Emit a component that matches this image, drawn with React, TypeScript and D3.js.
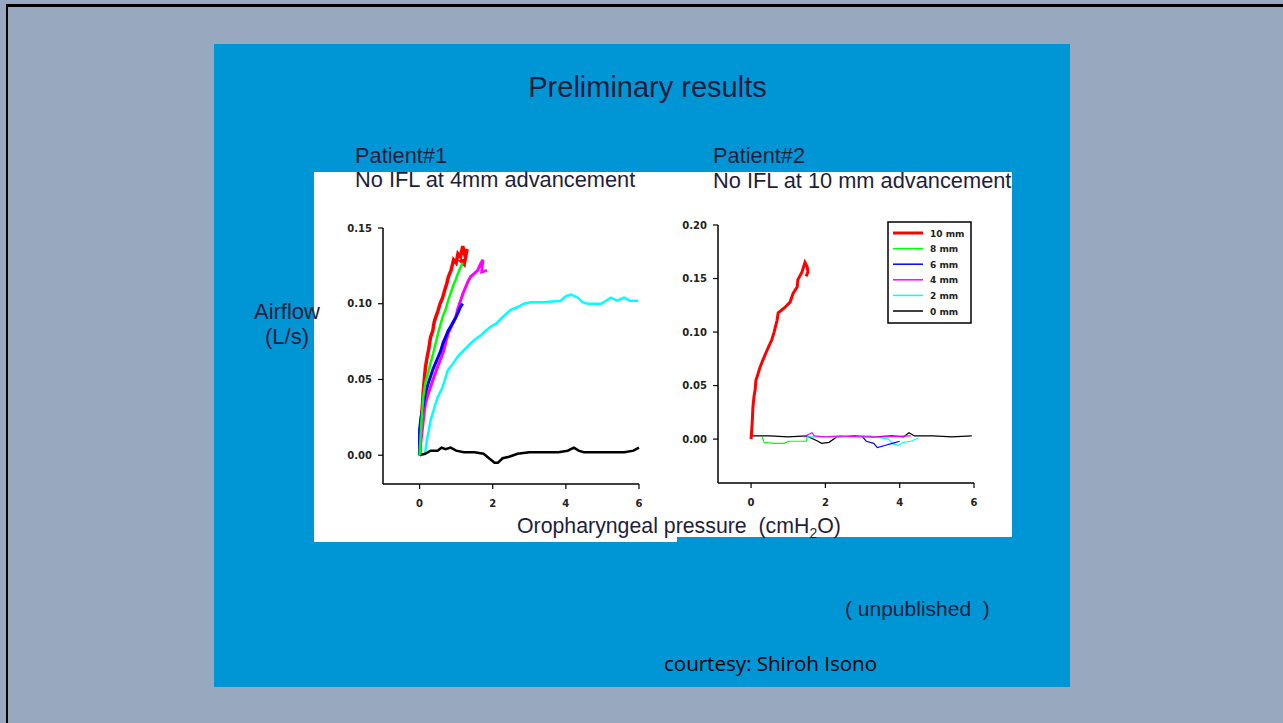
import React from "react";
import * as d3 from "d3";

type P = [number, number];

// ---------- Patient #1 (left chart) ----------
const p1Red: P[] = [
  [0, 0.0], [0.02, 0.012], [0.05, 0.024], [0.08, 0.034], [0.1, 0.042], [0.13, 0.05], [0.16, 0.058], [0.2, 0.064],
  [0.25, 0.07], [0.3, 0.078], [0.36, 0.082], [0.4, 0.088], [0.44, 0.091], [0.5, 0.095], [0.56, 0.1], [0.63, 0.104],
  [0.7, 0.11], [0.74, 0.113], [0.79, 0.118], [0.86, 0.122], [0.93, 0.129], [1.0, 0.127], [1.05, 0.133],
  [1.12, 0.131], [1.18, 0.138], [1.24, 0.132], [1.3, 0.136], [1.22, 0.126], [1.14, 0.128], [1.26, 0.129],
];
const p1Green: P[] = [
  [0, 0.0], [0.05, 0.022], [0.1, 0.038], [0.16, 0.048], [0.23, 0.054], [0.3, 0.061], [0.37, 0.067],
  [0.44, 0.074], [0.51, 0.081], [0.58, 0.087], [0.64, 0.092], [0.71, 0.096], [0.78, 0.102], [0.85, 0.107],
  [0.92, 0.112], [0.99, 0.116], [1.05, 0.12], [1.12, 0.124], [1.18, 0.127],
];
const p1Blue: P[] = [
  [0, 0.0], [0, 0.017], [0.04, 0.025], [0.08, 0.03], [0.12, 0.036], [0.16, 0.041], [0.23, 0.047],
  [0.3, 0.052], [0.37, 0.057], [0.44, 0.061], [0.51, 0.065], [0.58, 0.069], [0.64, 0.074], [0.71, 0.078],
  [0.78, 0.082], [0.85, 0.085], [0.92, 0.088], [0.99, 0.091], [1.05, 0.094], [1.12, 0.098], [1.18, 0.1],
];
const p1Magenta: P[] = [
  [0, 0.0], [0.04, 0.01], [0.08, 0.018], [0.12, 0.027], [0.16, 0.034], [0.23, 0.04], [0.3, 0.045],
  [0.4, 0.052], [0.49, 0.058], [0.57, 0.063], [0.66, 0.069], [0.72, 0.075], [0.79, 0.081], [0.89, 0.086],
  [0.99, 0.091], [1.05, 0.097], [1.12, 0.102], [1.19, 0.107], [1.26, 0.111], [1.33, 0.115], [1.4, 0.118],
  [1.5, 0.12], [1.59, 0.122], [1.66, 0.126], [1.73, 0.129], [1.7, 0.121], [1.84, 0.122],
];
const p1Cyan: P[] = [
  [0.14, 0.0], [0.16, 0.003], [0.2, 0.01], [0.25, 0.016], [0.3, 0.023], [0.4, 0.031], [0.49, 0.038],
  [0.63, 0.045], [0.77, 0.056], [0.9, 0.06], [1.04, 0.065], [1.2, 0.069], [1.4, 0.074], [1.55, 0.077],
  [1.67, 0.079], [1.8, 0.082], [1.95, 0.085], [2.1, 0.087], [2.22, 0.09], [2.35, 0.093], [2.49, 0.096],
  [2.7, 0.098], [2.85, 0.1], [3.04, 0.101], [3.4, 0.101], [3.86, 0.102], [4.0, 0.105], [4.14, 0.106],
  [4.33, 0.104], [4.45, 0.101], [4.6, 0.1], [4.96, 0.1], [5.1, 0.102], [5.23, 0.104], [5.4, 0.102],
  [5.59, 0.104], [5.75, 0.102], [5.98, 0.102],
];
const p1Black: P[] = [
  [0, 0.0], [0.16, 0.001], [0.3, 0.003], [0.49, 0.003], [0.6, 0.005], [0.71, 0.004], [0.85, 0.005],
  [1.0, 0.003], [1.21, 0.002], [1.5, 0.002], [1.75, 0.001], [1.85, -0.001], [1.95, -0.003], [2.05, -0.005],
  [2.14, -0.005], [2.27, -0.002], [2.45, -0.001], [2.68, 0.001], [3.0, 0.002], [3.4, 0.002], [3.8, 0.002],
  [4.05, 0.003], [4.22, 0.005], [4.35, 0.003], [4.49, 0.002], [4.8, 0.002], [5.23, 0.002], [5.6, 0.002],
  [5.85, 0.003], [6.0, 0.005],
];

// ---------- Patient #2 (right chart) ----------
const p2Red: P[] = [
  [0, 0.0], [0.03, 0.015], [0.05, 0.03], [0.08, 0.04], [0.11, 0.046], [0.13, 0.055], [0.16, 0.058],
  [0.24, 0.067], [0.32, 0.074], [0.43, 0.083], [0.56, 0.093], [0.62, 0.1], [0.7, 0.111], [0.73, 0.118],
  [0.91, 0.123], [1.05, 0.128], [1.13, 0.136], [1.24, 0.142], [1.26, 0.149], [1.37, 0.156], [1.45, 0.165],
  [1.51, 0.161], [1.53, 0.156], [1.48, 0.152],
];
const p2Green: P[] = [
  [0.3, 0.002], [0.35, -0.003], [0.6, -0.004], [0.9, -0.004], [1.0, -0.002], [1.3, -0.002], [1.5, -0.002], [1.5, 0.002],
];
const p2Blue: P[] = [
  [3.0, 0.002], [3.1, -0.002], [3.3, -0.004], [3.4, -0.008], [3.6, -0.006], [3.8, -0.004], [4.0, -0.002],
];
const p2Magenta: P[] = [
  [1.4, 0.002], [1.64, 0.006], [1.7, 0.003], [2.0, 0.002], [2.4, 0.003], [2.9, 0.002], [3.5, 0.002], [4.3, 0.003],
];
const p2Cyan: P[] = [
  [1.5, 0.002], [2.5, 0.002], [3.2, 0.003], [3.7, 0.0], [3.8, -0.004], [3.95, -0.006], [4.1, -0.003], [4.3, -0.002], [4.5, 0.001],
];
const p2Black: P[] = [
  [0, 0.003], [0.5, 0.003], [1.0, 0.002], [1.5, 0.003], [1.8, -0.002], [1.9, -0.004], [2.1, -0.003],
  [2.3, 0.002], [2.8, 0.003], [3.3, 0.002], [3.8, 0.003], [4.1, 0.002], [4.25, 0.006], [4.4, 0.003],
  [4.9, 0.003], [5.4, 0.002], [5.94, 0.003],
];

const legendLabels = ["10 mm", "8 mm", "6 mm", "4 mm", "2 mm", "0 mm"];
const legendColors = ["#ff0000", "#00ff00", "#0000ff", "#ff00ff", "#00ffff", "#000000"];
const xTicks = [0, 2, 4, 6];
const yTicks1 = [0, 0.05, 0.1, 0.15];
const yTicks2 = [0, 0.05, 0.1, 0.15, 0.2];

const TEXT = "#1e1e3c";
const FONT = "'Liberation Sans', Arial, sans-serif";
const TICKFONT = "'DejaVu Sans', sans-serif";

type Series = { data: P[]; color: string; width: number };

function Chart(props: {
  x: d3.ScaleLinear<number, number>;
  y: d3.ScaleLinear<number, number>;
  yTicks: number[];
  series: Series[];
}) {
  const { x, y, yTicks, series } = props;
  const [x0, x1] = x.range();
  const [yb, yt] = y.range();
  const line = d3
    .line<P>()
    .x((d) => x(d[0]))
    .y((d) => y(d[1]));
  return (
    <g>
      {series.map((s, i) => (
        <path
          key={i}
          d={line(s.data) || ""}
          fill="none"
          stroke={s.color}
          strokeWidth={s.width}
          strokeLinejoin="miter"
        />
      ))}
      <line x1={x0} x2={x0} y1={yt} y2={yb} stroke="#000" strokeWidth={1.5} />
      <line x1={x0} x2={x1} y1={yb} y2={yb} stroke="#000" strokeWidth={1.5} />
      {yTicks.map((t) => (
        <g key={"y" + t}>
          <line x1={x0 - 5} x2={x0} y1={y(t)} y2={y(t)} stroke="#000" strokeWidth={1.2} />
          <text
            x={x0 - 11}
            y={y(t) + 3.5}
            textAnchor="end"
            fontFamily={TICKFONT}
            fontWeight="bold"
            fontSize={10}
            fill="#222"
          >
            {d3.format(".2f")(t)}
          </text>
        </g>
      ))}
      {xTicks.map((t) => (
        <g key={"x" + t}>
          <line x1={x(t)} x2={x(t)} y1={yb} y2={yb + 5} stroke="#000" strokeWidth={1.2} />
          <text
            x={x(t)}
            y={yb + 23}
            textAnchor="middle"
            fontFamily={TICKFONT}
            fontWeight="bold"
            fontSize={10}
            fill="#222"
          >
            {t}
          </text>
        </g>
      ))}
    </g>
  );
}

export default function App() {
  const x1 = d3.scaleLinear().domain([-1, 6]).range([383, 639]);
  const y1 = d3.scaleLinear().domain([-0.019, 0.15]).range([484, 228]);
  const x2 = d3.scaleLinear().domain([-0.89, 6]).range([718, 974]);
  const y2 = d3.scaleLinear().domain([-0.041, 0.2]).range([483, 225]);

  const s1: Series[] = [
    { data: p1Cyan, color: "#00ffff", width: 2.5 },
    { data: p1Black, color: "#000000", width: 2.5 },
    { data: p1Red, color: "#ff0000", width: 3.5 },
    { data: p1Magenta, color: "#ff00ff", width: 3 },
    { data: p1Blue, color: "#0000ff", width: 3 },
    { data: p1Green, color: "#00ff00", width: 2.5 },
  ];
  const s2: Series[] = [
    { data: p2Black, color: "#000000", width: 1.2 },
    { data: p2Green, color: "#00ff00", width: 1.2 },
    { data: p2Cyan, color: "#00ffff", width: 1.2 },
    { data: p2Blue, color: "#0000ff", width: 1.2 },
    { data: p2Magenta, color: "#ff00ff", width: 1.2 },
    { data: p2Red, color: "#ff0000", width: 3 },
  ];

  const legendY = d3.scalePoint<string>().domain(legendLabels).range([233, 311]);

  return (
    <div style={{ position: "fixed", left: 0, top: 0 }}>
      <svg width={1283} height={723} style={{ display: "block" }}>
        <rect x={0} y={0} width={1283} height={723} fill="#98a8be" />
        <rect x={6} y={4} width={1283} height={3} fill="#000" />
        <rect x={6} y={4} width={2} height={723} fill="#000" />
        <rect x={214} y={44} width={856} height={643} fill="#0096d6" />
        <rect x={314} y={172} width={363} height={370} fill="#fff" />
        <rect x={677} y={172} width={335} height={365} fill="#fff" />

        <text x={647.5} y={97} textAnchor="middle" fontFamily={FONT} fontSize={29} fill={TEXT}>
          Preliminary results
        </text>
        <text x={355} y={163} fontFamily={FONT} fontSize={21.8} fill={TEXT}>
          Patient#1
        </text>
        <text x={355} y={187} fontFamily={FONT} fontSize={21.8} fill={TEXT}>
          No IFL at 4mm advancement
        </text>
        <text x={713} y={163} fontFamily={FONT} fontSize={21.8} fill={TEXT}>
          Patient#2
        </text>
        <text x={713} y={188} fontFamily={FONT} fontSize={21.8} fill={TEXT}>
          No IFL at 10 mm advancement
        </text>
        <text x={287} y={319} textAnchor="middle" fontFamily={FONT} fontSize={22} fill={TEXT}>
          Airflow
        </text>
        <text x={287} y={344} textAnchor="middle" fontFamily={FONT} fontSize={22} fill={TEXT}>
          (L/s)
        </text>
        <text x={517} y={533} fontFamily={FONT} fontSize={21.3} fill={TEXT}>
          Oropharyngeal pressure{"\u00a0\u00a0"}(cmH
          <tspan fontSize={14} dy={5}>2</tspan>
          <tspan dy={-5}>O)</tspan>
        </text>
        <text x={845} y={616} fontFamily={FONT} fontSize={21} fill={TEXT}>
          {"(\u00a0unpublished\u00a0\u00a0)"}
        </text>
        <text x={664} y={671} fontFamily="'Open Sans', sans-serif" fontSize={20.5} fill="#000">
          courtesy: Shiroh Isono
        </text>

        <Chart x={x1} y={y1} yTicks={yTicks1} series={s1} />
        <Chart x={x2} y={y2} yTicks={yTicks2} series={s2} />

        <rect x={888} y={222} width={83} height={101} fill="#fff" stroke="#000" strokeWidth={1.5} />
        {legendLabels.map((l, i) => (
          <g key={l}>
            <line
              x1={893}
              x2={923}
              y1={legendY(l)}
              y2={legendY(l)}
              stroke={legendColors[i]}
              strokeWidth={i === 0 ? 3 : 1.5}
            />
            <text
              x={930}
              y={(legendY(l) || 0) + 3.5}
              fontFamily={TICKFONT}
              fontWeight="bold"
              fontSize={9}
              fill="#222"
            >
              {l}
            </text>
          </g>
        ))}
      </svg>
    </div>
  );
}
